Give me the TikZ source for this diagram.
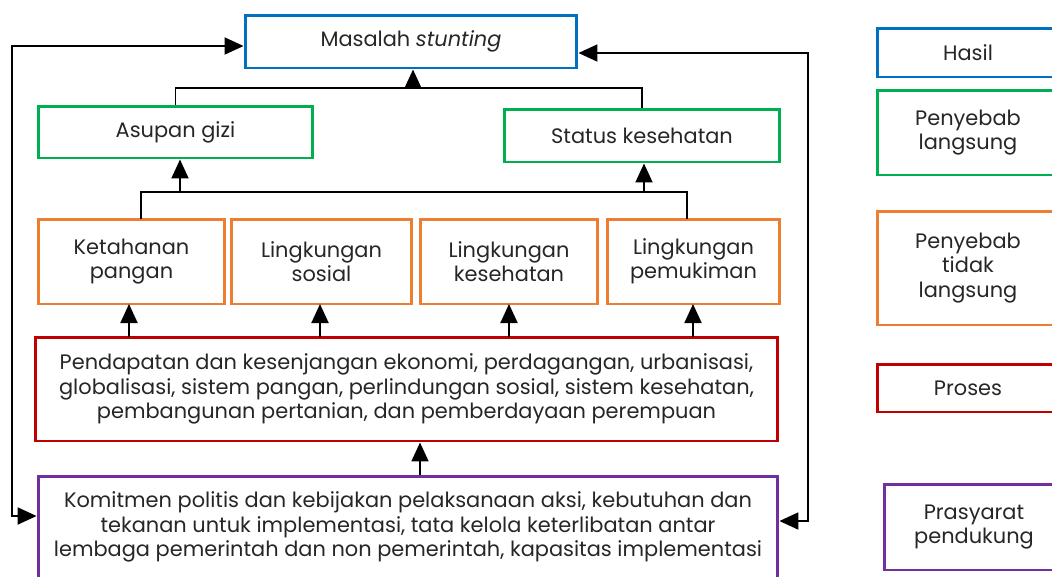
\documentclass[tikz,border=0pt]{standalone}
\usepackage{fontspec}
\setmainfont{Poppins}
\usetikzlibrary{arrows.meta}
\definecolor{hasilblue}{RGB}{0,112,192}
\definecolor{langsunggreen}{RGB}{0,176,80}
\definecolor{tidakorange}{RGB}{237,125,49}
\definecolor{prosesred}{RGB}{192,0,0}
\definecolor{dukungpurple}{RGB}{112,48,160}

\begin{document}
\begin{tikzpicture}[x=0.02cm, y=-0.02cm,
    box/.style = {draw, line width=1.7pt, align=center, inner sep=2pt,
                  font=\fontsize{11.9}{13.8}\selectfont, text=black!85},
    hasil/.style = {box, draw=hasilblue},
    langsung/.style = {box, draw=langsunggreen},
    tidak/.style = {box, draw=tidakorange},
    proses/.style = {box, draw=prosesred},
    dukung/.style = {box, draw=dukungpurple},
    link/.style = {line width=1.1pt},
    arr/.style = {link, -{Triangle[length=0.38cm, width=0.34cm]}},
    twoway/.style = {link, {Triangle[length=0.38cm, width=0.34cm]}-{Triangle[length=0.38cm, width=0.34cm]}}]
  \useasboundingbox (0,0) rectangle (1052,576);

  % outcome and direct causes
  \node[hasil, minimum width=6.64cm, minimum height=1.06cm] (masalah) at (411,41.5) {Masalah \textit{stunting}};
  \node[langsung, minimum width=5.5cm, minimum height=1.04cm] (asupan) at (175.5,132) {Asupan gizi};
  \node[langsung, minimum width=5.52cm, minimum height=1.06cm] (status) at (642,135.5) {Status kesehatan};

  % indirect causes
  \node[tidak, minimum width=3.74cm, minimum height=1.7cm] (pangan) at (131.5,261.5) {Ketahanan\\pangan};
  \node[tidak, minimum width=3.62cm, minimum height=1.7cm] (sosial) at (321.5,261.5) {Lingkungan\\sosial};
  \node[tidak, minimum width=3.56cm, minimum height=1.7cm] (sehat) at (509,261.5) {Lingkungan\\kesehatan};
  \node[tidak, minimum width=3.46cm, minimum height=1.7cm] (mukim) at (693.5,261.5) {Lingkungan\\pemukiman};

  \node[proses, minimum width=14.86cm, minimum height=2.08cm] (proses) at (406.5,389)
    {Pendapatan dan kesenjangan ekonomi, perdagangan, urbanisasi,\\
     globalisasi, sistem pangan, perlindungan sosial, sistem kesehatan,\\
     pembangunan pertanian, dan pemberdayaan perempuan};
  \node[dukung, minimum width=14.8cm, minimum height=2.04cm] (komitmen) at (408,527)
    {Komitmen politis dan kebijakan pelaksanaan aksi, kebutuhan dan\\
     tekanan untuk implementasi, tata kelola keterlibatan antar\\
     lembaga pemerintah dan non pemerintah, kapasitas implementasi};

  % legend
  \node[hasil, minimum width=3.64cm, minimum height=0.98cm] (lhasil) at (968,52.5) {Hasil};
  \node[langsung, minimum width=3.64cm, minimum height=1.7cm] (llangsung) at (968,132.5) {Penyebab\\langsung};
  \node[tidak, minimum width=3.64cm, minimum height=2.28cm] (ltidak) at (968,268) {Penyebab\\tidak\\langsung};
  \node[proses, minimum width=3.64cm, minimum height=0.96cm] (lproses) at (968,388) {Proses};
  \node[dukung, minimum width=3.6cm, minimum height=1.72cm] (ldukung) at (974,527) {Prasyarat\\pendukung};

  % connectors
  \coordinate (j1) at (413,88);
  \coordinate (j2) at (180,192);
  \coordinate (j3) at (644,192);
  \draw[link] (asupan.north) |- (j1) -| (status.north);
  \draw[arr] (j1) -- (j1 |- masalah.south);
  \draw[link] (141,219) |- (j2) -- (j3) -| (687,219);
  \draw[arr] (j2) -- (j2 |- asupan.south);
  \draw[arr] (j3) -- (j3 |- status.south);

  \foreach \n/\x in {pangan/129, sosial/320, sehat/509, mukim/693}
    \draw[arr] (\x,337) -- (\x,304);
  \draw[arr] (komitmen.north -| 420,0) -- (proses.south -| 420,0);

  % feedback loops
  \coordinate (lft) at (12,516);
  \coordinate (rgt) at (808,521);
  \draw[twoway] (masalah.west |- 0,46) -| (lft) -- (komitmen.west |- lft);
  \draw[twoway] (masalah.east |- 0,53) -| (rgt) -- (komitmen.east |- rgt);
\end{tikzpicture}
\end{document}
